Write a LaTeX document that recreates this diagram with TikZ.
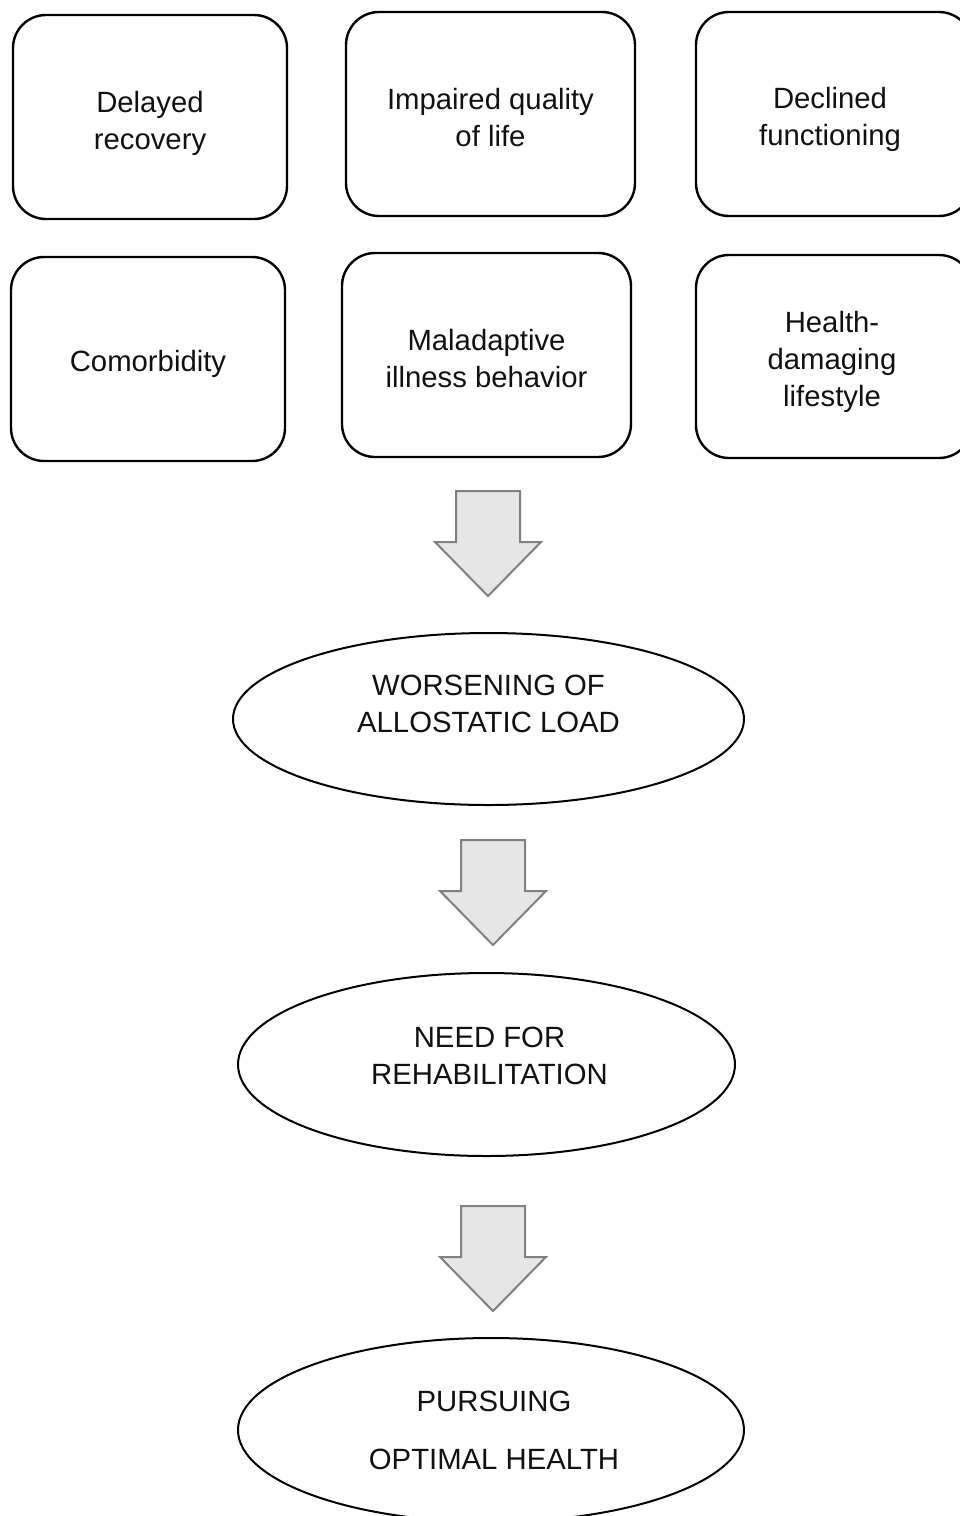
\documentclass[tikz,border=0pt]{standalone}
\usepackage{fontspec}
\setmainfont{Liberation Sans}
\usetikzlibrary{shapes.geometric}
\definecolor{arrowfill}{HTML}{E6E6E6}
\definecolor{arrowline}{HTML}{808080}
\definecolor{txtcol}{HTML}{111111}
\begin{document}
\begin{tikzpicture}[x=1pt,y=-1pt,
  every node/.style={font=\fontsize{29.3}{37}\selectfont, text=txtcol},
  rbox/.style={draw=black, line width=2.4pt, rounded corners=33pt,
    minimum height=204pt, inner sep=0pt},
  ebox/.style={draw=black, line width=2pt, ellipse, inner sep=0pt},
  txt/.style={align=center, inner sep=0pt},
  blockarrow/.pic={
    \draw[fill=arrowfill, draw=arrowline, line width=2pt, line join=miter]
      (-32,0) -- (32,0) -- (32,51) -- (53,51) -- (0,105) -- (-53,51) -- (-32,51) -- cycle;
  }]
\useasboundingbox[fill=white] (0,0) rectangle (960,1516);

% top row
\node[rbox, minimum width=274pt] (b1) at (150,117) {};
\node[txt] (b1t) at ([yshift=-6pt]b1.center) {Delayed\\recovery};
\node[rbox, minimum width=289pt] (b2) at (490.5,114) {};
\node[txt] (b2t) at ([yshift=-4pt]b2.center) {Impaired quality\\of life};
\node[rbox, minimum width=276pt] (b3) at (834,114) {};
\node[txt] (b3t) at ([xshift=-4pt,yshift=-5pt]b3.center) {Declined\\functioning};
% second row
\node[rbox, minimum width=274pt] (b4) at (148,359) {};
\node[txt] (b4t) at ([yshift=-5pt]b4.center) {Comorbidity};
\node[rbox, minimum width=289pt] (b5) at (486.5,355) {};
\node[txt] (b5t) at ([yshift=-4pt]b5.center) {Maladaptive\\illness behavior};
\node[rbox, minimum width=276pt, minimum height=203pt] (b6) at (834,356.5) {};
\node[txt] (b6t) at ([xshift=-2pt,yshift=-5pt]b6.center) {Health-\\damaging\\lifestyle};

% arrow 1
\coordinate (a1) at (488,491);
\pic at (a1) {blockarrow};

% ellipse 1
\node[ebox, minimum width=511pt, minimum height=172pt] (e1) at (488.5,719) {};
\node[txt] (e1t) at ([yshift=15pt]e1.center) {WORSENING OF\\ALLOSTATIC LOAD};

% arrow 2
\coordinate (a2) at (493,840);
\pic at (a2) {blockarrow};

% ellipse 2
\node[ebox, minimum width=497pt, minimum height=183pt] (e2) at (486.5,1064.5) {};
\node[txt] (e2t) at ([xshift=3pt,yshift=9pt]e2.center) {NEED FOR\\REHABILITATION};

% arrow 3
\coordinate (a3) at (493,1206);
\pic at (a3) {blockarrow};

% ellipse 3
\node[ebox, minimum width=506pt, minimum height=184pt] (e3) at (491,1430) {};
\node[txt] (e3t) at ([xshift=3pt]e3.center) {PURSUING\\[21pt]OPTIMAL HEALTH};
\end{tikzpicture}
\end{document}
